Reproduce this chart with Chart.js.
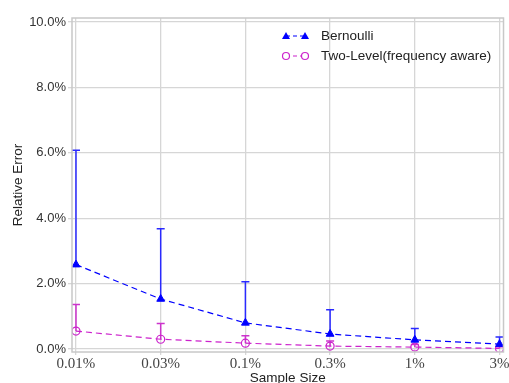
<!DOCTYPE html>
<html>
<head>
<meta charset="utf-8">
<script src="https://cdn.jsdelivr.net/npm/chart.js@4"></script>
<style>
  html, body { margin: 0; padding: 0; background: #fff; }
  #wrap { width: 509px; height: 383px; }
</style>
</head>
<body>
<div id="wrap"><canvas id="chart" width="509" height="383"></canvas></div>
<script>
// sample sizes on the x axis
const sampleSizes = ["0.01%", "0.03%", "0.1%", "0.3%", "1%", "3%"];
const yTicks = [0, 2, 4, 6, 8, 10];

// relative error (%) and top of error bar
const bernoulli = [2.58, 1.53, 0.80, 0.46, 0.28, 0.15];
const bernoulliUpper = [6.08, 3.68, 2.06, 1.20, 0.63, 0.37];
const twoLevel = [0.55, 0.30, 0.18, 0.09, 0.06, 0.02];
const twoLevelUpper = [1.36, 0.78, 0.41, 0.25, 0.14, 0.07];

const blue = "#0000ff";
const magenta = "#cc22cc";

function toPoints(arr) {
    return arr.map((v, i) => ({ x: i, y: v }));
}

// error bars drawn under the markers
const errorBars = {
    id: "errorBars",
    beforeDatasetsDraw(chart) {
        const ctx = chart.ctx;
        const xs = chart.scales.x, ys = chart.scales.y;
        chart.data.datasets.forEach(ds => {
            ctx.save();
            ctx.strokeStyle = ds.barColor;
            ctx.lineWidth = 1.5;
            ds.upper.forEach((u, i) => {
                const px = xs.getPixelForValue(i);
                const y0 = ys.getPixelForValue(ds.data[i].y);
                const y1 = ys.getPixelForValue(u);
                ctx.beginPath();
                ctx.moveTo(px, y0);
                ctx.lineTo(px, y1);
                ctx.moveTo(px - 4, y1);
                ctx.lineTo(px + 4, y1);
                ctx.stroke();
            });
            ctx.restore();
        });
    }
};

// frame around plot area + legend inside
const frameAndLegend = {
    id: "frameAndLegend",
    afterDraw(chart) {
        const ctx = chart.ctx;
        const a = chart.chartArea;
        ctx.save();
        ctx.strokeStyle = "#c8c8c8";
        ctx.lineWidth = 1.5;
        ctx.strokeRect(a.left, a.top, a.right - a.left, a.bottom - a.top);

        const items = chart.data.datasets;
        items.forEach((ds, k) => {
            const y = 36 + k * 20;
            const x0 = 286, x1 = 305;
            ctx.setLineDash([4, 3]);
            ctx.strokeStyle = ds.borderColor;
            ctx.lineWidth = 1.2;
            ctx.beginPath();
            ctx.moveTo(x0, y);
            ctx.lineTo(x1, y);
            ctx.stroke();
            ctx.setLineDash([]);
            [x0, x1].forEach(x => {
                if (ds.pointStyle === "triangle") {
                    ctx.fillStyle = ds.borderColor;
                    ctx.beginPath();
                    ctx.moveTo(x, y - 4);
                    ctx.lineTo(x + 4, y + 3);
                    ctx.lineTo(x - 4, y + 3);
                    ctx.closePath();
                    ctx.fill();
                } else {
                    ctx.fillStyle = "#fff";
                    ctx.beginPath();
                    ctx.arc(x, y, 3.5, 0, Math.PI * 2);
                    ctx.fill();
                    ctx.stroke();
                }
            });
            ctx.fillStyle = "#222";
            ctx.font = "13.5px 'Liberation Sans', Arial, sans-serif";
            ctx.textBaseline = "middle";
            ctx.fillText(ds.label, 321, y);
        });
        ctx.restore();
    }
};

new Chart(document.getElementById("chart").getContext("2d"), {
    type: "line",
    data: {
        datasets: [{
            label: "Bernoulli",
            data: toPoints(bernoulli),
            upper: bernoulliUpper,
            barColor: "#2a2aff",
            borderColor: blue,
            backgroundColor: blue,
            borderWidth: 1.2,
            borderDash: [6, 4],
            pointStyle: "triangle",
            pointRadius: 4.5,
            pointBackgroundColor: blue,
            pointBorderColor: blue,
            pointBorderWidth: 1,
            tension: 0
        }, {
            label: "Two-Level(frequency aware)",
            data: toPoints(twoLevel),
            upper: twoLevelUpper,
            barColor: "#cc33cc",
            borderColor: magenta,
            backgroundColor: "#fff",
            borderWidth: 1.2,
            borderDash: [6, 4],
            pointStyle: "circle",
            pointRadius: 4,
            pointBackgroundColor: "rgba(255,255,255,0)",
            pointBorderColor: magenta,
            pointBorderWidth: 1.2,
            tension: 0
        }]
    },
    options: {
        responsive: false,
        animation: false,
        layout: { padding: { left: 10, right: 5, top: 18, bottom: 0 } },
        plugins: {
            legend: { display: false },
            tooltip: { enabled: false }
        },
        scales: {
            x: {
                type: "linear",
                min: -0.047,
                max: 5.047,
                afterBuildTicks: s => { s.ticks = sampleSizes.map((_, i) => ({ value: i })); },
                afterFit: s => { s.height = 31; s.paddingLeft = 0; s.paddingRight = 0; },
                grid: { color: "#d6d6d6", lineWidth: 1.3, tickLength: 3 },
                border: { display: false },
                ticks: {
                    autoSkip: false,
                    maxRotation: 0,
                    padding: 0,
                    color: "#444",
                    font: { family: "'Liberation Serif', serif", size: 15 },
                    callback: v => sampleSizes[v]
                },
                title: {
                    display: true,
                    text: "Sample Size",
                    color: "#222",
                    padding: { top: 0, bottom: -3 },
                    font: { family: "'Liberation Sans', Arial, sans-serif", size: 13.5 }
                }
            },
            y: {
                min: -0.09,
                max: 10.12,
                afterBuildTicks: s => { s.ticks = yTicks.map(v => ({ value: v })); },
                afterFit: s => { s.width = 62; },
                grid: { color: "#d6d6d6", lineWidth: 1.3, tickLength: 4 },
                border: { display: false },
                ticks: {
                    padding: 2,
                    color: "#333",
                    font: { family: "'Liberation Sans', Arial, sans-serif", size: 13 },
                    callback: v => v.toFixed(1) + "%"
                },
                title: {
                    display: true,
                    text: "Relative Error",
                    color: "#222",
                    padding: { top: 0, bottom: 0 },
                    font: { family: "'Liberation Sans', Arial, sans-serif", size: 13.5 }
                }
            }
        }
    },
    plugins: [errorBars, frameAndLegend]
});
</script>
</body>
</html>
